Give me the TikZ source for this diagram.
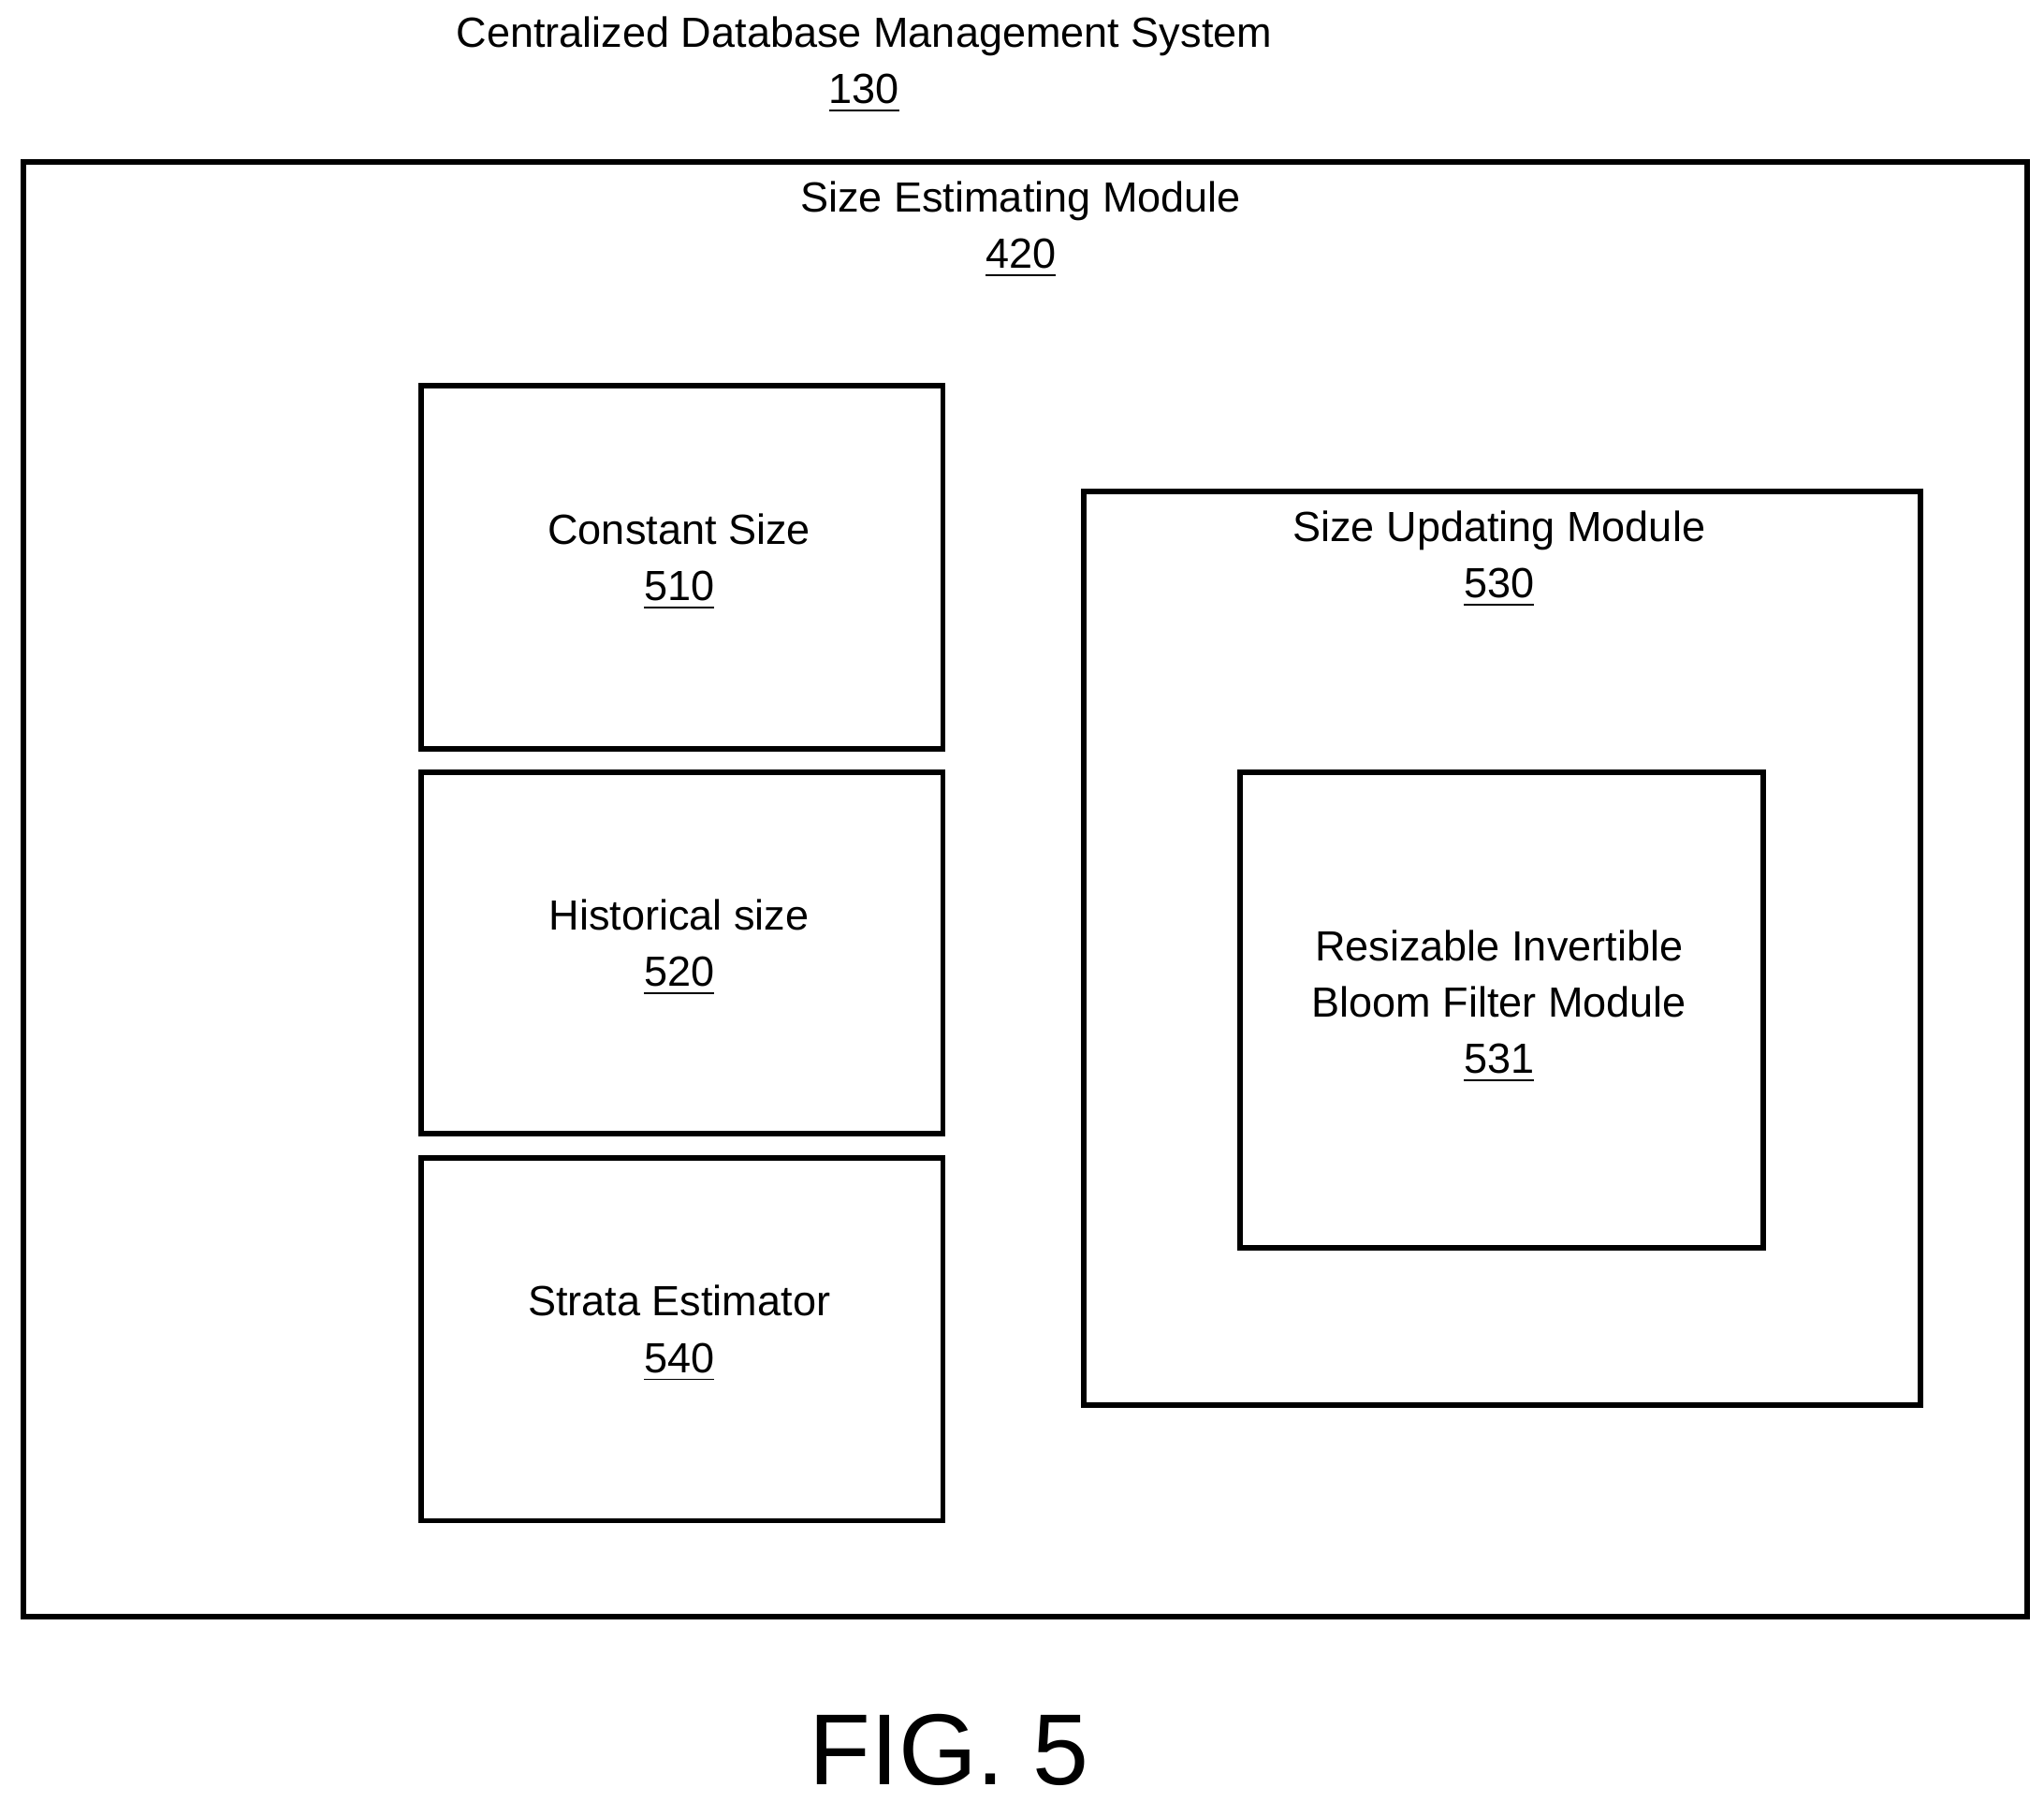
\documentclass[tikz,border=0pt]{standalone}
\usepackage{fontspec}
\setmainfont{Liberation Sans}
\begin{document}
\begin{tikzpicture}[x=0.01cm,y=-0.01cm,
  box/.style={draw,line width=1.2pt},
  lbl/.style={font=\fontsize{9.2pt}{12.3pt}\selectfont,align=center,inner sep=0pt}]
\useasboundingbox (0,0) rectangle (1568,1382);
\node[box,minimum width=15.36cm,minimum height=11.15cm,anchor=north west] (m420) at (16,122) {};
\node[box,minimum width=4.0cm,minimum height=2.78cm,anchor=north west] (m510) at (321,294) {};
\node[box,minimum width=4.0cm,minimum height=2.77cm,anchor=north west] (m520) at (321,590) {};
\node[box,minimum width=4.0cm,minimum height=2.78cm,anchor=north west] (m540) at (321,886) {};
\node[box,minimum width=6.42cm,minimum height=7.0cm,anchor=north west] (m530) at (829,375) {};
\node[box,minimum width=4.01cm,minimum height=3.65cm,anchor=north west] (m531) at (949,590) {};
\node[lbl] (t130) at (663,50) {Centralized Database Management System\\\underline{130}};
\node[lbl] (t420) at (783,176) {Size Estimating Module\\\underline{420}};
\node[lbl] (t510) at (521,431) {Constant Size\\\underline{510}};
\node[lbl] (t520) at (521,727) {Historical size\\\underline{520}};
\node[lbl] (t540) at (521,1023) {Strata Estimator\\\underline{540}};
\node[lbl] (t530) at (1150,429) {Size Updating Module\\\underline{530}};
\node[lbl] (t531) at (1150,772) {Resizable Invertible\\Bloom Filter Module\\\underline{531}};
\node[font=\fontsize{22pt}{26pt}\selectfont,inner sep=0pt] (fig) at (728,1342) {FIG. 5};
\end{tikzpicture}
\end{document}
